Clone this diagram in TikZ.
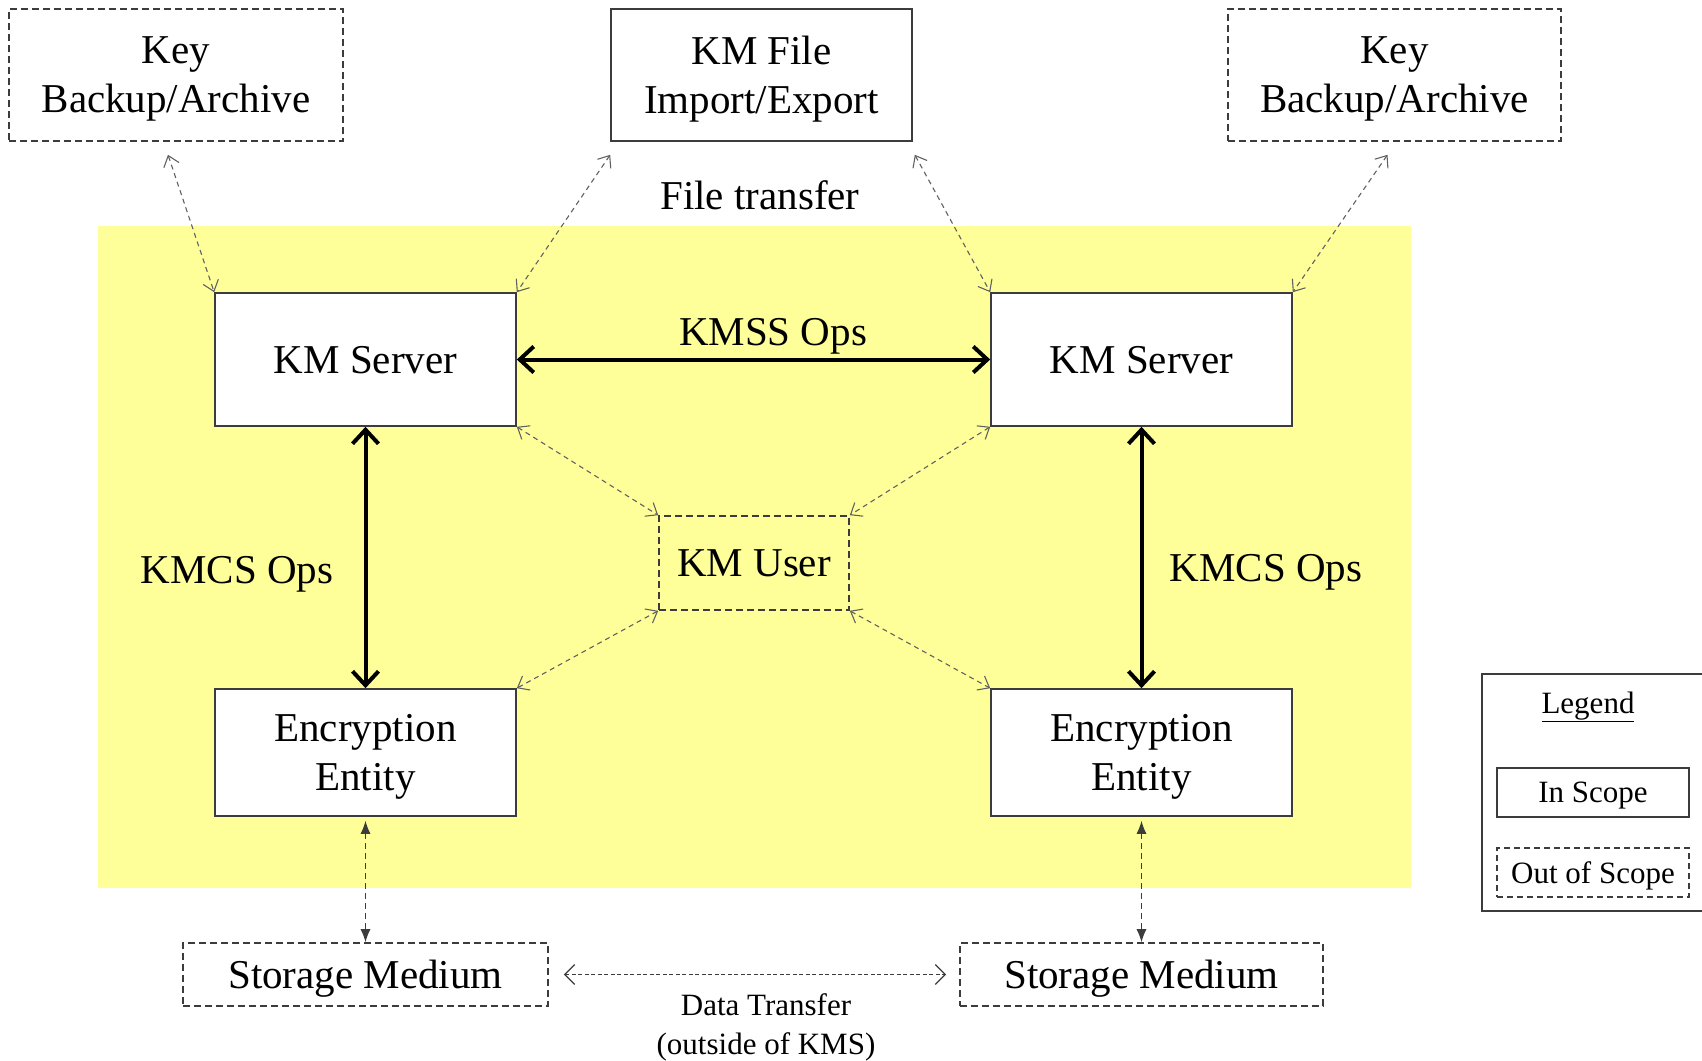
\documentclass[tikz,border=0pt]{standalone}
\usepackage{fontspec}
\setmainfont{Liberation Serif}
\usetikzlibrary{arrows.meta,calc}
\definecolor{kmsyellow}{RGB}{255,255,153}
\definecolor{edgegray}{RGB}{60,60,60}
\begin{document}
\begin{tikzpicture}[x=1pt,y=-1pt,
  bigtext/.style={font=\fontsize{41}{49}\selectfont},
  smalltext/.style={font=\fontsize{31}{39}\selectfont},
  inbox/.style={draw=edgegray, line width=1.6pt, fill=white, inner sep=0pt, text depth=0pt, align=center, bigtext},
  outbox/.style={draw=edgegray, line width=1.6pt, dash pattern=on 7pt off 4pt, inner sep=0pt, text depth=0pt, align=center, bigtext},
  opsarrow/.style={line width=4pt, {Straight Barb[length=14pt,width=26pt]}-{Straight Barb[length=14pt,width=26pt]}},
  linkarrow/.style={draw=black!62, line width=1.1pt, dash pattern=on 5pt off 4pt,
    {Straight Barb[length=10pt,width=16pt]}-{Straight Barb[length=10pt,width=16pt]}},
  mediaarrow/.style={draw=edgegray, line width=1.1pt, dash pattern=on 6pt off 4pt,
    {Latex[length=13pt,width=10pt]}-{Latex[length=13pt,width=10pt]}},
  transferarrow/.style={draw=edgegray, line width=1.3pt, dash pattern=on 4pt off 2.5pt,
    {Straight Barb[length=10pt,width=20pt]}-{Straight Barb[length=10pt,width=20pt]}}
]
\useasboundingbox (0,0) rectangle (1702,1060);
\fill[kmsyellow] (98,226) rectangle (1411,888);

% top boxes
\node[outbox, minimum width=334pt, minimum height=132pt] (keyL) at (176,75) {Key\\Backup/Archive};
\node[inbox, minimum width=301pt, minimum height=132pt] (kmfile) at (761.5,75) {KM File\\Import/Export};
\node[outbox, minimum width=333pt, minimum height=132pt] (keyR) at (1394.5,75) {Key\\Backup/Archive};

% servers
\node[inbox, minimum width=301pt, minimum height=133pt] (srvL) at (365.5,359.5) {KM Server};
\node[inbox, minimum width=301pt, minimum height=133pt] (srvR) at (1141.5,359.5) {KM Server};

% user
\node[outbox, minimum width=190pt, minimum height=94pt] (user) at (754,563) {KM User};

% encryption entities
\node[inbox, minimum width=301pt, minimum height=127pt] (encL) at (365.5,752.5) {Encryption\\Entity};
\node[inbox, minimum width=301pt, minimum height=127pt] (encR) at (1141.5,752.5) {Encryption\\Entity};

% storage
\node[outbox, minimum width=365pt, minimum height=63pt] (stoL) at (365.5,974.5) {Storage Medium};
\node[outbox, minimum width=363pt, minimum height=63pt] (stoR) at (1141.5,974.5) {Storage Medium};

% labels
\node[bigtext] (lblfile) at (760,195) {File transfer};
\node[bigtext] (lblkmss) at (773,336) {KMSS Ops};
\node[bigtext] (lblkmcsL) at (237,574) {KMCS Ops};
\node[bigtext] (lblkmcsR) at (1266,572) {KMCS Ops};
\node[smalltext, align=center] (lbldata) at (766,1027) {Data Transfer\\(outside of KMS)};

% legend
\draw[draw=edgegray, line width=1.6pt] (1482,674) rectangle (1708,911);
\node[smalltext] (lgtitle) at (1588,707) {\underline{Legend}};
\node[draw=edgegray, line width=1.6pt, minimum width=192pt, minimum height=49pt, inner sep=0pt, text depth=0pt, smalltext] (lgin) at (1593,792.5) {In Scope};
\node[draw=edgegray, line width=1.6pt, dash pattern=on 6pt off 4pt, minimum width=192pt, minimum height=49pt, inner sep=0pt, text depth=0pt, smalltext] (lgout) at (1593,872.5) {Out of Scope};

% thick operations arrows
\draw[opsarrow] (srvL.east) -- (srvR.west);
\draw[opsarrow] (srvL.south) -- (encL.north);
\draw[opsarrow] (srvR.south) -- (encR.north);

% dashed links
\draw[linkarrow] ($(keyL.south)+(-8,13)$) -- (srvL.north west);
\draw[linkarrow] ($(kmfile.south west)+(0,13)$) -- (srvL.north east);
\draw[linkarrow] ($(kmfile.south east)+(2,13)$) -- (srvR.north west);
\draw[linkarrow] ($(keyR.south)+(-7,13)$) -- (srvR.north east);
\draw[linkarrow] (srvL.south east) -- (user.north west);
\draw[linkarrow] (srvR.south west) -- (user.north east);
\draw[linkarrow] (user.south west) -- (encL.north east);
\draw[linkarrow] (user.south east) -- (encR.north west);

% media links
\draw[mediaarrow] ($(encL.south)+(0,4)$) -- (stoL.north);
\draw[mediaarrow] ($(encR.south)+(0,4)$) -- (stoR.north);

% data transfer
\draw[transferarrow] ($(stoL.east)+(15,0)$) -- ($(stoR.west)+(-13,0)$);
\end{tikzpicture}
\end{document}
